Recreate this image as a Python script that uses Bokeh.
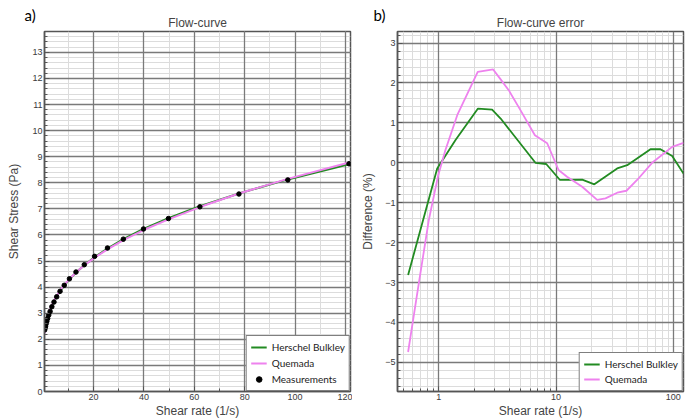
from bokeh.plotting import figure
from bokeh.layouts import row
from bokeh.models import (SingleIntervalTicker, FixedTicker, Legend, LegendItem,
                          Range1d, BasicTickFormatter, Grid, Title)
from bokeh.embed import file_html
from bokeh.resources import INLINE

# ---------------- data ----------------
shear_rate = [0.57, 0.72, 0.90, 1.12, 1.40, 1.75, 2.19, 2.73, 3.42, 4.27, 5.34, 6.67, 8.34,
              10.4, 13.0, 16.3, 20.4, 25.5, 31.8, 39.8, 49.7, 62.2, 77.7, 97.1, 121.4]
measured_stress = [2.36, 2.43, 2.50, 2.59, 2.69, 2.80, 2.93, 3.07, 3.25, 3.43, 3.63, 3.84, 4.07,
                   4.32, 4.58, 4.86, 5.18, 5.50, 5.84, 6.23, 6.63, 7.08, 7.57, 8.11, 8.73]
hb_stress = [2.29, 2.39, 2.48, 2.59, 2.71, 2.83, 2.97, 3.12, 3.28, 3.45, 3.64, 3.84, 4.06,
             4.30, 4.56, 4.84, 5.15, 5.48, 5.84, 6.23, 6.64, 7.10, 7.59, 8.13, 8.71]
quemada_stress = [2.24, 2.36, 2.47, 2.59, 2.72, 2.85, 3.00, 3.15, 3.31, 3.48, 3.66, 3.87, 4.09,
                  4.31, 4.56, 4.84, 5.13, 5.45, 5.80, 6.19, 6.60, 7.07, 7.59, 8.15, 8.78]

hb_err_rate = [0.548, 0.97, 1.39, 2.16, 2.85, 3.37, 6.67, 8.24, 10.8, 16.7, 21.2, 33.2, 40.4,
               63.8, 77.6, 97.7, 122]
hb_err = [-2.81, -0.14, 0.57, 1.36, 1.33, 1.11, 0.0, -0.03, -0.43, -0.42, -0.54, -0.14, -0.06,
          0.34, 0.34, 0.17, -0.27]
q_err_rate = [0.548, 0.676, 0.822, 0.99, 1.14, 1.44, 2.15, 2.91, 3.37, 3.95, 4.97, 6.6, 8.4,
              10.5, 12.4, 16.7, 22.4, 26.4, 33.2, 39.8, 49.1, 65.9, 97.7, 122]
q_err = [-4.74, -3.02, -1.44, -0.31, 0.32, 1.20, 2.28, 2.34, 2.09, 1.82, 1.32, 0.69, 0.49,
         -0.18, -0.35, -0.60, -0.93, -0.89, -0.75, -0.70, -0.43, 0.0, 0.40, 0.50]

right_xticks = [1, 10, 100]
right_xminor = [0.5, 0.6, 0.7, 0.8, 0.9, 2, 3, 4, 5, 6, 7, 8, 9,
                20, 30, 40, 50, 60, 70, 80, 90]

GREEN = "#228b22"
PINK = "#ee82ee"
MAJOR = "#7a7a7a"
MINOR = "#dcdcdc"
FRAME = "#555555"
TXT = "#444444"
FONT = "Liberation Sans"
LEG_FONT = "Lato"


def style(p, xtick, ytick, ylabel_standoff, panel_label, label_offset, title_text):
    p.background_fill_color = "white"
    p.border_fill_color = "white"
    p.outline_line_color = FRAME
    p.outline_line_width = 1.5
    p.xaxis.ticker = xtick
    p.yaxis.ticker = ytick
    for ax in (p.xaxis, p.yaxis):
        ax.axis_line_color = FRAME
        ax.axis_line_width = 1.5
        ax.major_tick_in = 5
        ax.major_tick_out = 0
        ax.minor_tick_in = 3
        ax.minor_tick_out = 0
        ax.major_tick_line_color = FRAME
        ax.minor_tick_line_color = FRAME
        ax.major_label_text_font = FONT
        ax.major_label_text_font_size = "9px"
        ax.major_label_text_color = "#3a3a3a"
        ax.major_label_standoff = 2
        ax.axis_label_text_font = FONT
        ax.axis_label_text_font_size = "12px"
        ax.axis_label_text_font_style = "normal"
        ax.axis_label_text_color = TXT
    p.xaxis.axis_label_standoff = 1
    p.yaxis.axis_label_standoff = ylabel_standoff
    # minor grid first, major grid on top
    p.xgrid.ticker = xtick
    p.ygrid.ticker = ytick
    for g in (p.xgrid, p.ygrid):
        g.grid_line_color = None
        g.minor_grid_line_color = MINOR
        g.minor_grid_line_width = 1
    p.add_layout(Grid(dimension=0, ticker=xtick, grid_line_color=MAJOR,
                      grid_line_width=1.3), "center")
    p.add_layout(Grid(dimension=1, ticker=ytick, grid_line_color=MAJOR,
                      grid_line_width=1.3), "center")
    # chart title (inner) and panel letter (outer, pulled down by a negative standoff)
    p.add_layout(Title(text=title_text, align="center", text_font=FONT,
                       text_font_size="12px", text_font_style="normal", text_color=TXT,
                       standoff=4), "above")
    p.title.text = panel_label
    p.title.text_font = LEG_FONT
    p.title.text_font_size = "15px"
    p.title.text_font_style = "normal"
    p.title.text_color = "black"
    p.title.align = "left"
    p.title.offset = label_offset
    p.title.standoff = -25


def legend(items, spacing):
    return Legend(items=items, location="bottom_right", margin=0, padding=4, spacing=spacing,
                  glyph_height=14, glyph_width=16, label_height=14, label_standoff=5,
                  label_text_font=LEG_FONT, label_text_font_size="10px",
                  label_text_color="#222222", border_line_color="black",
                  border_line_width=1, background_fill_alpha=1)


# ---------------- left: flow curve ----------------
p1 = figure(width=352, height=420, x_range=Range1d(0.5, 122), y_range=Range1d(0, 13.8),
            output_backend="svg", toolbar_location=None,
            min_border_left=44, min_border_right=2, min_border_top=31, min_border_bottom=28)
style(p1, SingleIntervalTicker(interval=20, num_minor_ticks=2),
      SingleIntervalTicker(interval=1, num_minor_ticks=5), 8, "a)", -20, "Flow-curve")
p1.xaxis.axis_label = "Shear rate (1/s)"
p1.yaxis.axis_label = "Shear Stress (Pa)"

r_hb = p1.line(shear_rate, hb_stress, line_color=GREEN, line_width=2)
r_q = p1.line(shear_rate, quemada_stress, line_color=PINK, line_width=2)
r_m = p1.scatter(shear_rate, measured_stress, size=4.5, marker="circle",
                 fill_color="black", line_color="black")

p1.add_layout(legend([LegendItem(label="Herschel Bulkley", renderers=[r_hb]),
                      LegendItem(label="Quemada", renderers=[r_q]),
                      LegendItem(label="Measurements", renderers=[r_m])], 2), "center")

# ---------------- right: flow-curve error ----------------
p2 = figure(width=344, height=420, x_axis_type="log",
            x_range=Range1d(0.445, 122), y_range=Range1d(-5.73, 3.29),
            output_backend="svg", toolbar_location=None,
            min_border_left=45, min_border_right=13, min_border_top=31, min_border_bottom=28)
style(p2, FixedTicker(ticks=right_xticks, minor_ticks=right_xminor),
      SingleIntervalTicker(interval=1, num_minor_ticks=5), 7, "b)", -24, "Flow-curve error")
p2.xaxis.formatter = BasicTickFormatter()
p2.xaxis.axis_label = "Shear rate (1/s)"
p2.yaxis.axis_label = "Difference (%)"

r2_hb = p2.line(hb_err_rate, hb_err, line_color=GREEN, line_width=1.8)
r2_q = p2.line(q_err_rate, q_err, line_color=PINK, line_width=1.8)

p2.add_layout(legend([LegendItem(label="Herschel Bulkley", renderers=[r2_hb]),
                      LegendItem(label="Quemada", renderers=[r2_q])], 1), "center")

layout = row(p1, p2)
with open("out.html", "w") as f:
    f.write(file_html(layout, INLINE))
